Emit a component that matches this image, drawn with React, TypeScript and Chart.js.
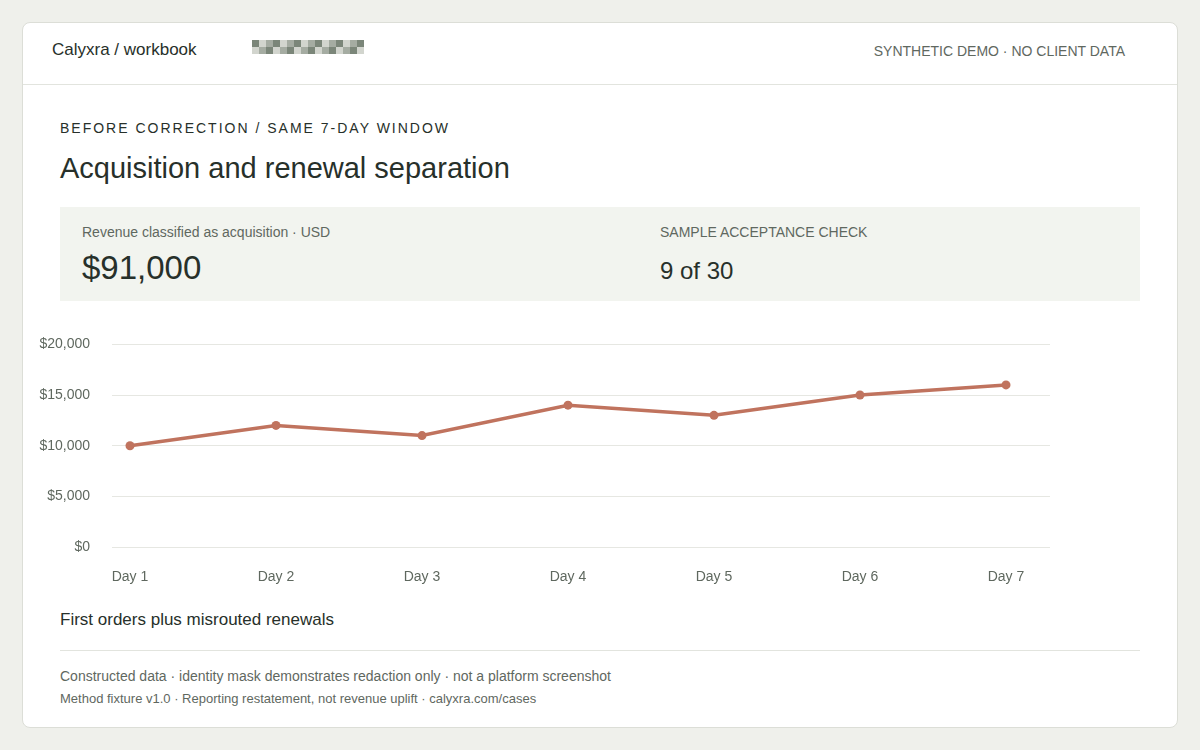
import React, { useEffect, useRef } from 'react';
import { Chart, registerables } from 'chart.js';

Chart.register(...registerables);

const days: string[] = ['Day 1', 'Day 2', 'Day 3', 'Day 4', 'Day 5', 'Day 6', 'Day 7'];
const acquisitionRevenue: number[] = [10000, 12000, 11000, 14000, 13000, 15000, 16000];
const yTicks: number[] = [0, 5000, 10000, 15000, 20000];

const FONT = '"Liberation Sans", Arial, Helvetica, sans-serif';
const INK = '#27302a';
const MUTED = '#5f685f';
const LINE = '#c0735e';

const maskColors = ['#7b8679', '#d2d5ce', '#a5aca2'];

const Mask: React.FC = () => {
  const cells = [];
  for (let r = 0; r < 2; r++) {
    for (let c = 0; c < 16; c++) {
      cells.push(
        <div
          key={r + '-' + c}
          style={{
            position: 'absolute',
            left: c * 7,
            top: r * 7,
            width: 7,
            height: 7,
            background: maskColors[(c + r) % 3],
          }}
        />
      );
    }
  }
  return <div style={{ position: 'absolute', left: 229, top: 17, width: 112, height: 14 }}>{cells}</div>;
};

const RevenueChart: React.FC = () => {
  const chartRef = useRef<HTMLCanvasElement>(null);

  useEffect(() => {
    if (!chartRef.current) return;
    const chart = new Chart(chartRef.current, {
      type: 'line',
      data: {
        datasets: [
          {
            label: 'First orders plus misrouted renewals',
            data: acquisitionRevenue.map((v, i) => ({ x: i, y: v })),
            borderColor: LINE,
            backgroundColor: LINE,
            borderWidth: 3.5,
            pointRadius: 4.5,
            pointBackgroundColor: LINE,
            pointBorderWidth: 0,
            tension: 0,
          },
        ],
      },
      options: {
        animation: false,
        responsive: false,
        layout: { padding: { left: 0, top: 17, right: 128, bottom: 0 } },
        plugins: {
          legend: { display: false },
          tooltip: { enabled: false },
        },
        scales: {
          x: {
            type: 'linear',
            min: -0.1233,
            max: 6.3014,
            grid: { display: false },
            border: { display: false },
            ticks: {
              stepSize: 1,
              includeBounds: false,
              padding: 14,
              color: MUTED,
              font: { family: FONT, size: 14 },
              callback: (v) => (Number.isInteger(v) ? days[v as number] ?? '' : ''),
            },
            afterFit: (axis) => {
              axis.height = 53;
            },
          },
          y: {
            min: yTicks[0],
            max: yTicks[yTicks.length - 1],
            afterBuildTicks: (axis) => {
              axis.ticks = yTicks.map((v) => ({ value: v }));
            },
            grid: { color: '#e6e7e2', lineWidth: 1, drawTicks: false },
            border: { display: false },
            ticks: {
              padding: 22,
              color: MUTED,
              font: { family: FONT, size: 14 },
              callback: (v) => '$' + Number(v).toLocaleString('en-US'),
            },
            afterFit: (axis) => {
              axis.width = 90;
            },
          },
        },
      },
    });
    return () => {
      chart.destroy();
    };
  }, []);

  return <canvas ref={chartRef} width={1156} height={286} style={{ display: 'block', width: 1156, height: 286 }} />;
};

const App: React.FC = () => {
  useEffect(() => {
    document.body.style.margin = '0';
  }, []);

  return (
    <div style={{ position: 'fixed', inset: 0, background: '#eff0eb', fontFamily: FONT, color: INK }}>
      <div
        style={{
          position: 'absolute',
          left: 22,
          top: 22,
          width: 1154,
          height: 704,
          background: '#fff',
          border: '1px solid #dcded7',
          borderRadius: 8,
          overflow: 'hidden',
        }}
      >
        {/* header */}
        <div style={{ position: 'absolute', left: 0, top: 0, width: 1154, height: 61, borderBottom: '1px solid #e2e4de' }}>
          <div style={{ position: 'absolute', left: 29, top: 17, fontSize: 17, lineHeight: '20px' }}>Calyxra / workbook</div>
          <Mask />
          <div style={{ position: 'absolute', right: 52, top: 20, fontSize: 14, lineHeight: '16px', color: MUTED }}>
            SYNTHETIC DEMO · NO CLIENT DATA
          </div>
        </div>

        <div style={{ position: 'absolute', left: 37, top: 97, fontSize: 14, lineHeight: '16px', letterSpacing: 2 }}>
          BEFORE CORRECTION / SAME 7-DAY WINDOW
        </div>
        <div style={{ position: 'absolute', left: 37, top: 128, fontSize: 29, lineHeight: '34px' }}>
          Acquisition and renewal separation
        </div>

        {/* stats panel */}
        <div style={{ position: 'absolute', left: 37, top: 184, width: 1080, height: 94, background: '#f2f4ef' }}>
          <div style={{ position: 'absolute', left: 22, top: 17, fontSize: 14, lineHeight: '16px', color: MUTED }}>
            Revenue classified as acquisition · USD
          </div>
          <div style={{ position: 'absolute', left: 22, top: 42, fontSize: 33, lineHeight: '38px' }}>$91,000</div>
          <div style={{ position: 'absolute', left: 600, top: 17, fontSize: 14, lineHeight: '16px', color: MUTED }}>
            SAMPLE ACCEPTANCE CHECK
          </div>
          <div style={{ position: 'absolute', left: 600, top: 51, fontSize: 24, lineHeight: '26px' }}>9 of 30</div>
        </div>

        <div style={{ position: 'absolute', left: -1, top: 291 }}>
          <RevenueChart />
        </div>

        <div style={{ position: 'absolute', left: 37, top: 587, fontSize: 17, lineHeight: '20px' }}>
          First orders plus misrouted renewals
        </div>
        <div style={{ position: 'absolute', left: 37, top: 627, width: 1080, height: 1, background: '#e2e4de' }} />
        <div style={{ position: 'absolute', left: 37, top: 645, fontSize: 14, lineHeight: '16px', color: MUTED }}>
          Constructed data · identity mask demonstrates redaction only · not a platform screenshot
        </div>
        <div style={{ position: 'absolute', left: 37, top: 669, fontSize: 13, lineHeight: '14px', color: MUTED }}>
          Method fixture v1.0 · Reporting restatement, not revenue uplift · calyxra.com/cases
        </div>
      </div>
    </div>
  );
};

export default App;
